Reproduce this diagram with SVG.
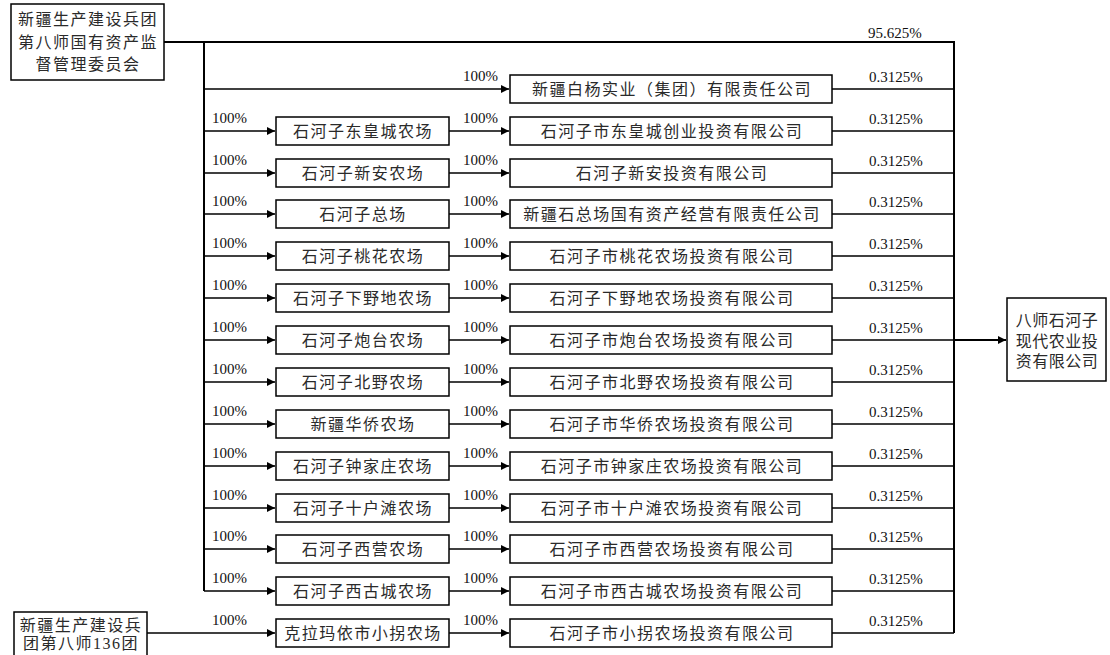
<svg xmlns="http://www.w3.org/2000/svg" width="1110" height="655" viewBox="0 0 1110 655">
<style>
.box{fill:#fff;stroke:#000;stroke-width:1.5}
.t{font-family:"Liberation Serif","Noto Sans CJK SC",serif;font-size:16px;letter-spacing:1.5px;fill:#2a2a2a;text-anchor:middle}
.p{font-family:"Liberation Serif",serif;font-size:15px;fill:#111}
.ln{fill:none;stroke:#000;stroke-width:1.5}
.bus{fill:none;stroke:#000;stroke-width:2}
</style>
<defs>
<marker id="ah" markerUnits="userSpaceOnUse" markerWidth="9" markerHeight="9" refX="8" refY="4.5" orient="auto">
<path d="M0,0.5 L8,4.5 L0,8.5 z" fill="#000"/>
</marker>
</defs>
<g id="connectors">
<path class="bus" d="M164,42 H954 V633"/>
<path class="bus" d="M204,42 V591"/>
<path class="ln" d="M204,89 H509" marker-end="url(#ah)"/>
<path class="ln" d="M204,131 H275" marker-end="url(#ah)"/>
<path class="ln" d="M204,173 H275" marker-end="url(#ah)"/>
<path class="ln" d="M204,214 H275" marker-end="url(#ah)"/>
<path class="ln" d="M204,256 H275" marker-end="url(#ah)"/>
<path class="ln" d="M204,298 H275" marker-end="url(#ah)"/>
<path class="ln" d="M204,340 H275" marker-end="url(#ah)"/>
<path class="ln" d="M204,382 H275" marker-end="url(#ah)"/>
<path class="ln" d="M204,424 H275" marker-end="url(#ah)"/>
<path class="ln" d="M204,466 H275" marker-end="url(#ah)"/>
<path class="ln" d="M204,508 H275" marker-end="url(#ah)"/>
<path class="ln" d="M204,549 H275" marker-end="url(#ah)"/>
<path class="ln" d="M204,591 H275" marker-end="url(#ah)"/>
<path class="ln" d="M147,633 H275" marker-end="url(#ah)"/>
<path class="ln" d="M449,131 H509" marker-end="url(#ah)"/>
<path class="ln" d="M449,173 H509" marker-end="url(#ah)"/>
<path class="ln" d="M449,214 H509" marker-end="url(#ah)"/>
<path class="ln" d="M449,256 H509" marker-end="url(#ah)"/>
<path class="ln" d="M449,298 H509" marker-end="url(#ah)"/>
<path class="ln" d="M449,340 H509" marker-end="url(#ah)"/>
<path class="ln" d="M449,382 H509" marker-end="url(#ah)"/>
<path class="ln" d="M449,424 H509" marker-end="url(#ah)"/>
<path class="ln" d="M449,466 H509" marker-end="url(#ah)"/>
<path class="ln" d="M449,508 H509" marker-end="url(#ah)"/>
<path class="ln" d="M449,549 H509" marker-end="url(#ah)"/>
<path class="ln" d="M449,591 H509" marker-end="url(#ah)"/>
<path class="ln" d="M449,633 H509" marker-end="url(#ah)"/>
<path class="ln" d="M832,89 H954 M832,131 H954 M832,173 H954 M832,214 H954 M832,256 H954 M832,298 H954 M832,340 H954 M832,382 H954 M832,424 H954 M832,466 H954 M832,508 H954 M832,549 H954 M832,591 H954 M832,633 H954"/>
<path class="bus" d="M954,340 H1006" marker-end="url(#ah)"/>
<g class="p">
<text x="868" y="38">95.625%</text>
<text x="463" y="81">100%</text>
<text x="869" y="82">0.3125%</text>
<text x="212" y="123">100%</text><text x="463" y="123">100%</text><text x="869" y="124">0.3125%</text>
<text x="212" y="165">100%</text><text x="463" y="165">100%</text><text x="869" y="166">0.3125%</text>
<text x="212" y="206">100%</text><text x="463" y="206">100%</text><text x="869" y="207">0.3125%</text>
<text x="212" y="248">100%</text><text x="463" y="248">100%</text><text x="869" y="249">0.3125%</text>
<text x="212" y="290">100%</text><text x="463" y="290">100%</text><text x="869" y="291">0.3125%</text>
<text x="212" y="332">100%</text><text x="463" y="332">100%</text><text x="869" y="333">0.3125%</text>
<text x="212" y="374">100%</text><text x="463" y="374">100%</text><text x="869" y="375">0.3125%</text>
<text x="212" y="416">100%</text><text x="463" y="416">100%</text><text x="869" y="417">0.3125%</text>
<text x="212" y="458">100%</text><text x="463" y="458">100%</text><text x="869" y="459">0.3125%</text>
<text x="212" y="500">100%</text><text x="463" y="500">100%</text><text x="869" y="501">0.3125%</text>
<text x="212" y="541">100%</text><text x="463" y="541">100%</text><text x="869" y="542">0.3125%</text>
<text x="212" y="583">100%</text><text x="463" y="583">100%</text><text x="869" y="584">0.3125%</text>
<text x="212" y="625">100%</text><text x="463" y="625">100%</text><text x="869" y="626">0.3125%</text>
</g>
</g>
<g id="n-top"><rect class="box" x="11" y="4" width="153" height="76"/>
<text class="t" x="88" y="25">新疆生产建设兵团</text><text class="t" x="88" y="48">第八师国有资产监</text><text class="t" x="88" y="70">督管理委员会</text></g>
<g id="n-136"><rect class="box" x="14" y="612" width="133" height="60"/>
<text class="t" x="81" y="631">新疆生产建设兵</text><text class="t" x="81" y="649">团第八师136团</text></g>
<g id="n-target"><rect class="box" x="1007" y="298" width="99" height="83"/>
<g class="t" style="letter-spacing:0.5px"><text x="1057" y="326">八师石河子</text><text x="1057" y="347">现代农业投</text><text x="1057" y="367">资有限公司</text></g></g>
<g id="n-l1"><rect class="box" x="276" y="117" width="173" height="28"/><text class="t" x="363" y="137">石河子东皇城农场</text></g>
<g id="n-l2"><rect class="box" x="276" y="159" width="173" height="28"/><text class="t" x="363" y="179">石河子新安农场</text></g>
<g id="n-l3"><rect class="box" x="276" y="200" width="173" height="28"/><text class="t" x="363" y="220">石河子总场</text></g>
<g id="n-l4"><rect class="box" x="276" y="242" width="173" height="28"/><text class="t" x="363" y="262">石河子桃花农场</text></g>
<g id="n-l5"><rect class="box" x="276" y="284" width="173" height="28"/><text class="t" x="363" y="304">石河子下野地农场</text></g>
<g id="n-l6"><rect class="box" x="276" y="326" width="173" height="28"/><text class="t" x="363" y="346">石河子炮台农场</text></g>
<g id="n-l7"><rect class="box" x="276" y="368" width="173" height="28"/><text class="t" x="363" y="388">石河子北野农场</text></g>
<g id="n-l8"><rect class="box" x="276" y="410" width="173" height="28"/><text class="t" x="363" y="430">新疆华侨农场</text></g>
<g id="n-l9"><rect class="box" x="276" y="452" width="173" height="28"/><text class="t" x="363" y="472">石河子钟家庄农场</text></g>
<g id="n-l10"><rect class="box" x="276" y="494" width="173" height="28"/><text class="t" x="363" y="514">石河子十户滩农场</text></g>
<g id="n-l11"><rect class="box" x="276" y="535" width="173" height="28"/><text class="t" x="363" y="555">石河子西营农场</text></g>
<g id="n-l12"><rect class="box" x="276" y="577" width="173" height="28"/><text class="t" x="363" y="597">石河子西古城农场</text></g>
<g id="n-l13"><rect class="box" x="276" y="619" width="173" height="28"/><text class="t" x="363" y="639">克拉玛依市小拐农场</text></g>
<g id="n-r0"><rect class="box" x="510" y="75" width="322" height="28"/><text class="t" x="672" y="95">新疆白杨实业（集团）有限责任公司</text></g>
<g id="n-r1"><rect class="box" x="510" y="117" width="322" height="28"/><text class="t" x="672" y="137">石河子市东皇城创业投资有限公司</text></g>
<g id="n-r2"><rect class="box" x="510" y="159" width="322" height="28"/><text class="t" x="672" y="179">石河子新安投资有限公司</text></g>
<g id="n-r3"><rect class="box" x="510" y="200" width="322" height="28"/><text class="t" x="672" y="220">新疆石总场国有资产经营有限责任公司</text></g>
<g id="n-r4"><rect class="box" x="510" y="242" width="322" height="28"/><text class="t" x="672" y="262">石河子市桃花农场投资有限公司</text></g>
<g id="n-r5"><rect class="box" x="510" y="284" width="322" height="28"/><text class="t" x="672" y="304">石河子下野地农场投资有限公司</text></g>
<g id="n-r6"><rect class="box" x="510" y="326" width="322" height="28"/><text class="t" x="672" y="346">石河子市炮台农场投资有限公司</text></g>
<g id="n-r7"><rect class="box" x="510" y="368" width="322" height="28"/><text class="t" x="672" y="388">石河子市北野农场投资有限公司</text></g>
<g id="n-r8"><rect class="box" x="510" y="410" width="322" height="28"/><text class="t" x="672" y="430">石河子市华侨农场投资有限公司</text></g>
<g id="n-r9"><rect class="box" x="510" y="452" width="322" height="28"/><text class="t" x="672" y="472">石河子市钟家庄农场投资有限公司</text></g>
<g id="n-r10"><rect class="box" x="510" y="494" width="322" height="28"/><text class="t" x="672" y="514">石河子市十户滩农场投资有限公司</text></g>
<g id="n-r11"><rect class="box" x="510" y="535" width="322" height="28"/><text class="t" x="672" y="555">石河子市西营农场投资有限公司</text></g>
<g id="n-r12"><rect class="box" x="510" y="577" width="322" height="28"/><text class="t" x="672" y="597">石河子市西古城农场投资有限公司</text></g>
<g id="n-r13"><rect class="box" x="510" y="619" width="322" height="28"/><text class="t" x="672" y="639">石河子市小拐农场投资有限公司</text></g>
</svg>
